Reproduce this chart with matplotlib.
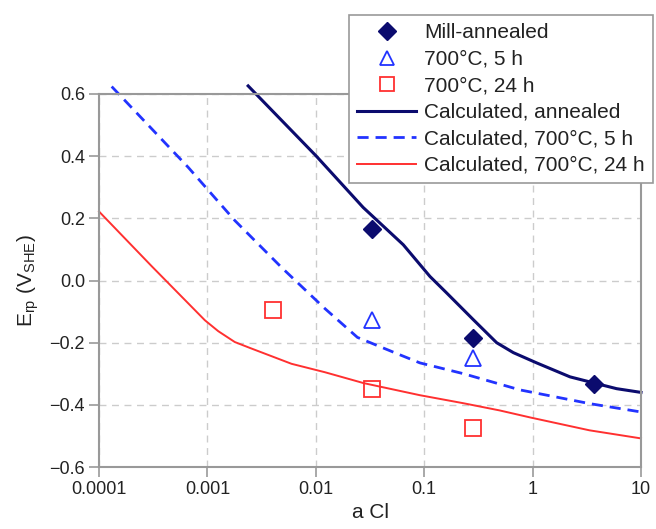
import matplotlib
matplotlib.use("Agg")
import matplotlib.pyplot as plt
import numpy as np
from matplotlib.ticker import FixedLocator, FixedFormatter, NullLocator

plt.rcParams['font.family'] = ['Liberation Sans', 'DejaVu Sans']
plt.rcParams['mathtext.fontset'] = 'custom'
plt.rcParams['mathtext.rm'] = 'Liberation Sans'

# Measured points
mill_x = [0.0333, 0.28, 3.68]
mill_y = [0.167, -0.186, -0.334]
h5_x = [0.0333, 0.28]
h5_y = [-0.128, -0.250]
h24_x = [0.0040, 0.0333, 0.28]
h24_y = [-0.096, -0.350, -0.475]

# Calculated curves (log10 aCl, E)
calc_ann_logx = [-2.624, -1.995, -1.563, -1.193, -0.947, -0.793, -0.547, -0.332, -0.178, 0.037, 0.345, 0.525, 0.775, 1.0]
calc_ann_y = [0.626, 0.400, 0.235, 0.115, 0.013, -0.040, -0.126, -0.200, -0.232, -0.265, -0.310, -0.326, -0.348, -0.360]
calc_5h_logx = [-3.883, -3.177, -2.747, -2.316, -1.917, -1.616, -1.246, -1.04, -0.636, -0.116, 0.525, 1.0]
calc_5h_y = [0.624, 0.364, 0.193, 0.042, -0.090, -0.183, -0.236, -0.265, -0.300, -0.352, -0.396, -0.423]
calc_24h_logx = [-4.0, -3.514, -3.023, -2.9, -2.747, -2.6, -2.224, -1.917, -1.56, -1.04, -0.636, -0.304, -0.017, 0.525, 1.0]
calc_24h_y = [0.222, 0.046, -0.128, -0.163, -0.198, -0.218, -0.268, -0.295, -0.330, -0.369, -0.395, -0.418, -0.441, -0.482, -0.508]

xticks = [0.0001, 0.001, 0.01, 0.1, 1, 10]
xticklabels = ['0.0001', '0.001', '0.01', '0.1', '1', '10']
yticks = [-0.6, -0.4, -0.2, 0.0, 0.2, 0.4, 0.6]

navy = '#0b0b6e'
blue = '#2233ff'
red = '#ff3030'
gray = '#999999'
txt = '#222222'

fig = plt.figure(figsize=(6.56, 5.29), dpi=100)
ax = fig.add_axes([99/656, 1-467/529, (641-99)/656, (467-94)/529])

ax.set_xscale('log')
ax.set_xlim(1e-4, 10)
ax.set_ylim(-0.6, 0.6)

ax.plot(mill_x, mill_y, linestyle='none', marker='D', markersize=9.5,
        color=navy, label='Mill-annealed', zorder=5)
ax.plot(h5_x, h5_y, linestyle='none', marker='^', markersize=11,
        markerfacecolor='white', markeredgecolor=blue, markeredgewidth=1.3,
        label='700°C, 5 h', zorder=5)
ax.plot(h24_x, h24_y, linestyle='none', marker='s', markersize=11,
        markerfacecolor='none', markeredgecolor=red, markeredgewidth=1.3,
        label='700°C, 24 h', zorder=5)
ax.plot(10**np.array(calc_ann_logx), calc_ann_y, color=navy, lw=2.2,
        label='Calculated, annealed', clip_on=False)
ax.plot(10**np.array(calc_5h_logx), calc_5h_y, color=blue, lw=2.0,
        linestyle=(0, (4, 2.5)), label='Calculated, 700°C, 5 h', clip_on=False)
ax.plot(10**np.array(calc_24h_logx), calc_24h_y, color=red, lw=1.4,
        label='Calculated, 700°C, 24 h', clip_on=False)

ax.xaxis.set_major_locator(FixedLocator(xticks))
ax.xaxis.set_major_formatter(FixedFormatter(xticklabels))
ax.xaxis.set_minor_locator(NullLocator())
ax.set_yticks(yticks)
ax.set_yticklabels([f'{v:.1f}'.replace('-', '\u2212') for v in yticks])

ax.grid(True, which='major', color='#cccccc', linestyle=(0, (5, 4)), lw=1.0)
ax.set_axisbelow(True)
for s in ax.spines.values():
    s.set_color(gray)
    s.set_linewidth(1.5)
ax.tick_params(direction='out', length=7, width=1.2, color=gray,
               labelsize=13, labelcolor=txt, pad=3)

ax.set_xlabel('a Cl', fontsize=15, color=txt, labelpad=4)
ax.set_ylabel(r'E$_{\mathrm{rp}}$ (V$_{\mathrm{SHE}}$)', fontsize=15, color=txt, labelpad=6)

leg = ax.legend(loc='upper left', bbox_to_anchor=(349/656, 1-15/529),
                bbox_transform=fig.transFigure, borderaxespad=0,
                fontsize=15, frameon=True, fancybox=False, framealpha=1,
                edgecolor=gray, handlelength=2.8, handletextpad=0.4,
                labelspacing=0.36, borderpad=0.4, labelcolor=txt,
                markerscale=0.95)
leg.get_frame().set_linewidth(1.2)
leg.set_zorder(10)

fig.savefig('out.png', dpi=100)
